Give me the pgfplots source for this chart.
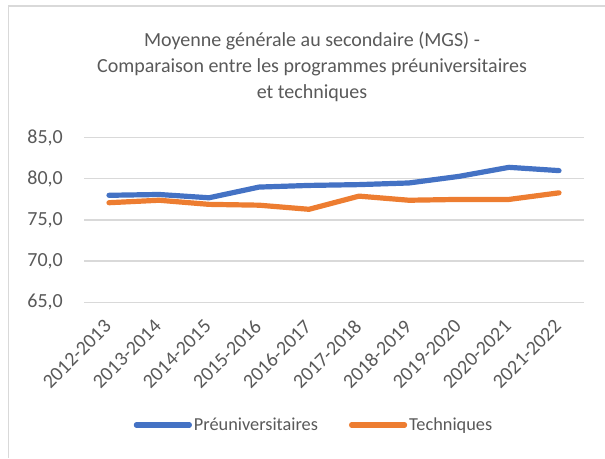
\documentclass[border=0pt]{standalone}
\usepackage{fontspec}
\setmainfont{Carlito}
\usepackage{pgfplots}
\usepackage{pgfplotstable}
\pgfplotsset{compat=1.18}

\definecolor{mgsblue}{HTML}{4472C4}
\definecolor{mgsorange}{HTML}{ED7D31}
\definecolor{gridgray}{HTML}{D9D9D9}
\definecolor{textgray}{HTML}{595959}

% MGS par annee scolaire (0 = 2012-2013)
\pgfplotstableread{
idx pre  tech
0   78.0 77.1
1   78.1 77.4
2   77.7 76.9
3   79.0 76.8
4   79.2 76.3
5   79.3 77.9
6   79.5 77.4
7   80.3 77.5
8   81.4 77.5
9   81.0 78.3
}\mgsdata

\begin{document}
\begin{tikzpicture}
\useasboundingbox (0pt,0pt) rectangle (605pt,458pt);
% cadre du graphique
\draw[gridgray, line width=1.3pt] (8.5pt,0pt) -- (8.5pt,452pt) -- (605pt,452pt);

\begin{scope}[every node/.style={text=textgray, font=\fontsize{20}{24}\selectfont, inner sep=0pt, anchor=base}]
  \node at (312pt,411pt) {Moyenne générale au secondaire (MGS) -};
  \node at (312pt,385pt) {Comparaison entre les programmes préuniversitaires};
  \node at (312pt,359pt) {et techniques};
\end{scope}

\begin{axis}[
    at={(84pt,155.7pt)}, anchor=south west,
    scale only axis,
    width=500pt, height=164.6pt,
    xmin=-0.5, xmax=9.5,
    ymin=65, ymax=85,
    ytick={65,70,75,80,85},
    xtick={0,...,9},
    xticklabels={2012-2013,2013-2014,2014-2015,2015-2016,2016-2017,2017-2018,2018-2019,2019-2020,2020-2021,2021-2022},
    axis line style={draw=none},
    major tick length=0pt,
    ymajorgrids,
    grid style={gridgray, line width=1.3pt},
    tick label style={text=textgray, font=\fontsize{20}{24}\selectfont},
    yticklabel style={anchor=east, inner sep=0pt, xshift=-21pt},
    xticklabel style={xshift=-6pt, yshift=-16pt, rotate=45, anchor=north east, inner sep=0pt},
    /pgf/number format/.cd, fixed, fixed zerofill, precision=1, use comma, assume math mode=true,
    /pgfplots/.cd,
    legend columns=2,
    legend style={at={(0.46,-0.745)}, anchor=center, draw=none, fill=none,
        font=\fontsize{18.3}{22}\selectfont, text=textgray,
        /tikz/every even column/.append style={column sep=29pt}},
    legend image code/.code={\draw[#1, line cap=round] (0pt,0pt) -- (53pt,0pt);},
]
\addplot[mgsblue, line width=5.2pt, line cap=round, line join=round] table[x=idx, y=pre] {\mgsdata};
\addlegendentry{Préuniversitaires}
\addplot[mgsorange, line width=5.2pt, line cap=round, line join=round] table[x=idx, y=tech] {\mgsdata};
\addlegendentry{Techniques}
\end{axis}
\end{tikzpicture}
\end{document}
